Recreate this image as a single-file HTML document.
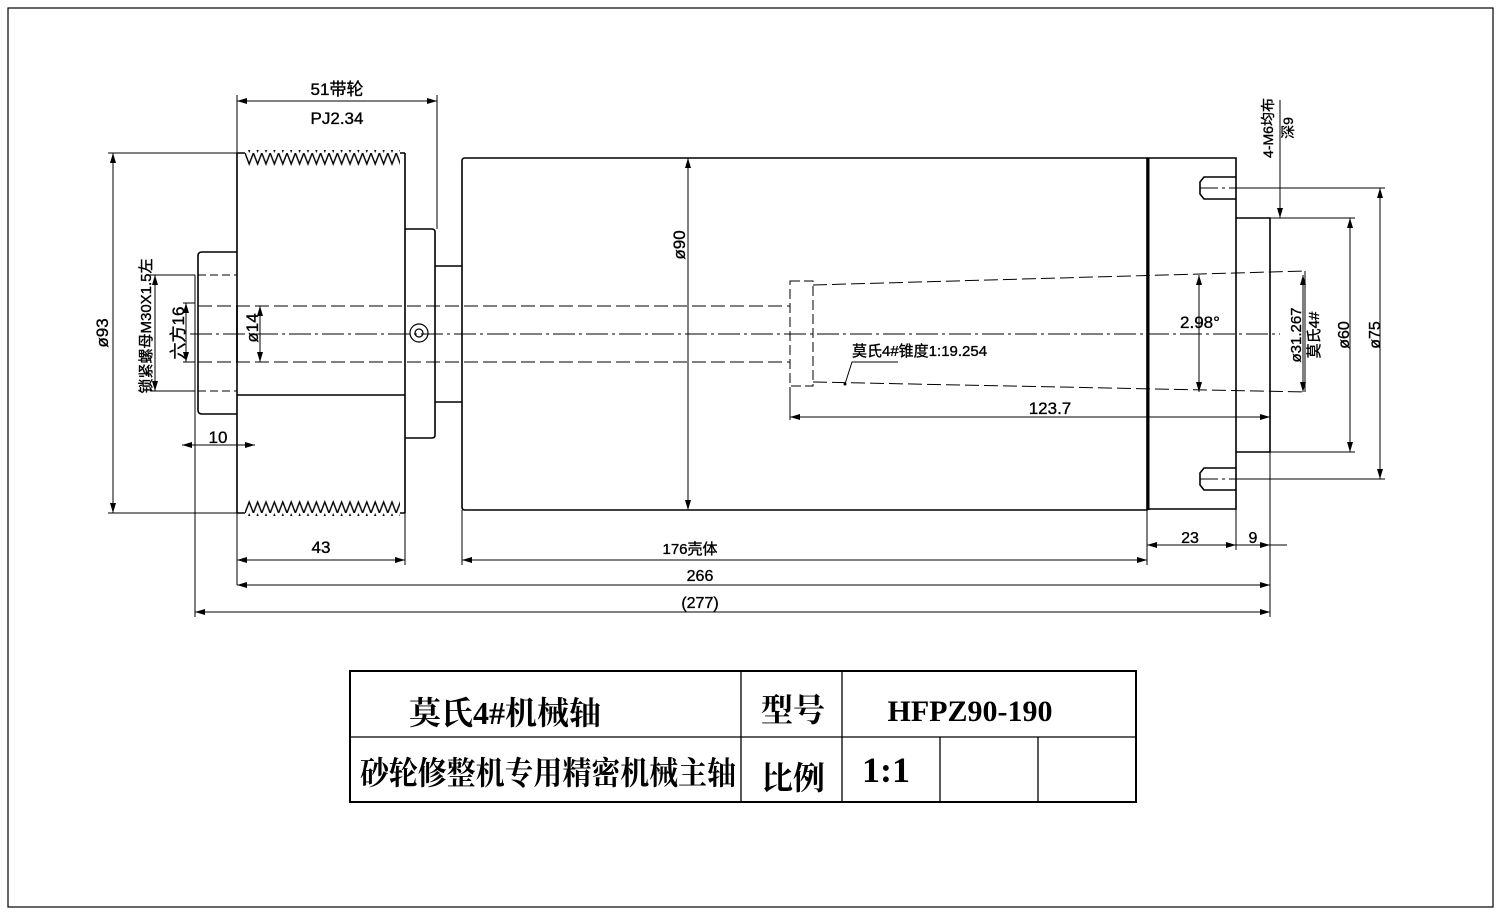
<!DOCTYPE html>
<html><head><meta charset="utf-8"><style>
html,body{margin:0;padding:0;background:#fff;}
svg{display:block}
text{font-family:"Liberation Sans Narrow","Liberation Sans","Noto Sans CJK SC",sans-serif;fill:#000}
.d text{stroke:#000;stroke-width:0.35}
.t text{font-family:"Liberation Serif","Noto Serif CJK SC","Noto Sans CJK SC",serif;font-weight:bold}
</style></head><body>
<svg width="1500" height="917" viewBox="0 0 1500 917" xmlns="http://www.w3.org/2000/svg">
<defs>
<pattern id="zt" x="245" y="153" width="8.4" height="13" patternUnits="userSpaceOnUse">
<path d="M0,0 L4.2,11 L8.4,0" fill="none" stroke="#000" stroke-width="1.4"/></pattern>
<pattern id="zb" x="245" y="500" width="8.4" height="13" patternUnits="userSpaceOnUse">
<path d="M0,13 L4.2,2 L8.4,13" fill="none" stroke="#000" stroke-width="1.4"/></pattern>
<marker id="a" viewBox="0 0 10 6" refX="10" refY="3" markerWidth="10" markerHeight="6" orient="auto-start-reverse" markerUnits="userSpaceOnUse"><path d="M0,0 L10,3 L0,6z" fill="#000"/></marker>
</defs>
<rect x="8" y="8" width="1485" height="899" fill="none" stroke="#000" stroke-width="1.2"/>
<g fill="none" stroke="#000" stroke-width="1.6">
<path d="M237,153 L237,513 M405,153 L405,513 M237,153 L245,153 M400,153 L405,153 M237,513 L245,513 M400,513 L405,513"/>
<rect x="245" y="150" width="155" height="16" fill="url(#zt)" stroke="none"/>
<rect x="245" y="500" width="155" height="16" fill="url(#zb)" stroke="none"/>
<path d="M237,252 L202,252 Q198,252 198,256 L198,410 Q198,414 202,414 L237,414"/>
<path d="M195,275 L195,392" stroke-width="1"/>
<path d="M237,395 L405,395 M237,306 L237,362"/>
<path d="M405,229 L432,229 Q435,229 435,232 L435,435 Q435,438 432,438 L405,438"/>
<path d="M435,266 L462,266 M435,402 L462,402"/>
<circle cx="419" cy="333" r="9" stroke-width="1.2"/><circle cx="419" cy="333" r="4" stroke-width="1.2"/>
<path d="M462,161 Q462,158 465,158 L1147,158 L1147,510 L465,510 Q462,510 462,507 Z"/>
<path d="M1148,158 L1148,510" stroke-width="3"/>
<path d="M1147,158 L1236,158 L1236,509 L1147,509"/>
<path d="M1236,218 L1270,218 L1270,452 L1236,452"/>
<path d="M1236,177 L1204,177 L1200,182 L1200,194 L1204,199 L1236,199"/>
<path d="M1236,468 L1204,468 L1200,473 L1200,485 L1204,490 L1236,490"/>
</g>
<g fill="none" stroke="#000" stroke-width="1">
<path d="M198,275 L237,275 M198,391 L237,391" stroke-dasharray="8,4"/>
<path d="M198,306 L790,306 M198,362 L790,362" stroke-dasharray="14,5"/>
<path d="M190,334 L1280,334" stroke-dasharray="22,4,3,4"/>
<path d="M790,281 L813,281 L813,386 L790,386 Z" stroke-dasharray="10,4"/>
<path d="M813,285 L1305,271 M813,382 L1305,392" stroke-dasharray="14,5"/>
<path d="M1200,188 L1280,188 M1200,479 L1280,479" stroke-dasharray="18,4,3,4"/>
</g>
<g fill="none" stroke="#000" stroke-width="1">
<path d="M237,95 L237,153 M437,95 L437,229"/>
<path d="M237,101 L437,101" marker-start="url(#a)" marker-end="url(#a)"/>
<path d="M108,153 L237,153 M108,513 L237,513"/>
<path d="M113,153 L113,513" marker-start="url(#a)" marker-end="url(#a)"/>
<path d="M150,275 L195,275 M150,391 L195,391"/>
<path d="M155,275 L155,391" marker-start="url(#a)" marker-end="url(#a)"/>
<path d="M183,303 L195,303 M183,362 L195,362"/>
<path d="M186,303 L186,362" marker-start="url(#a)" marker-end="url(#a)"/>
<path d="M260,306 L260,362" marker-start="url(#a)" marker-end="url(#a)"/>
<path d="M195,392 L195,617 M237,513 L237,585"/>
<path d="M182,445 L195,445" marker-start="url(#a)"/><path d="M237,445 L255,445" marker-end="url(#a)"/><path d="M195,445 L237,445"/>
<path d="M405,513 L405,565 M462,510 L462,565 M1147,510 L1147,565 M1236,509 L1236,550 M1270,452 L1270,617"/>
<path d="M237,560 L405,560" marker-start="url(#a)" marker-end="url(#a)"/>
<path d="M462,560 L1147,560" marker-start="url(#a)" marker-end="url(#a)"/>
<path d="M237,585 L1270,585" marker-start="url(#a)" marker-end="url(#a)"/>
<path d="M195,612 L1270,612" marker-start="url(#a)" marker-end="url(#a)"/>
<path d="M1147,545 L1236,545" marker-start="url(#a)" marker-end="url(#a)"/>
<path d="M1236,545 L1287,545"/><path d="M1255,545 L1270,545" marker-end="url(#a)"/>
<path d="M688,158 L688,510" marker-start="url(#a)" marker-end="url(#a)"/>
<path d="M790,387 L790,420"/>
<path d="M790,417 L1270,417" marker-start="url(#a)" marker-end="url(#a)"/>
<path d="M1199,275 L1199,392" marker-start="url(#a)" marker-end="url(#a)"/>
<path d="M1270,218 L1355,218 M1270,452 L1355,452"/>
<path d="M1350,218 L1350,452" marker-start="url(#a)" marker-end="url(#a)"/>
<path d="M1236,188 L1385,188 M1236,479 L1385,479"/>
<path d="M1380,188 L1380,479" marker-start="url(#a)" marker-end="url(#a)"/>
<path d="M1305,271 L1305,392"/>
<path d="M1303,275 L1303,392" marker-start="url(#a)" marker-end="url(#a)"/>
<path d="M1280,100 L1280,218" marker-end="url(#a)"/>
<path d="M845,384 L852,362 L898,362"/>
</g>
<circle cx="845" cy="384" r="1.5"/>
<g font-size="17" class="d">
<text x="337" y="95" text-anchor="middle">51带轮</text>
<text x="337" y="124" text-anchor="middle">PJ2.34</text>
<text transform="translate(108,333) rotate(-90)" text-anchor="middle">ø93</text>
<text transform="translate(151,326) rotate(-90)" text-anchor="middle" font-size="15">锁紧螺母M30X1.5左</text>
<text transform="translate(184,333) rotate(-90)" text-anchor="middle">六方16</text>
<text transform="translate(258,328) rotate(-90)" text-anchor="middle">ø14</text>
<text x="218" y="443" text-anchor="middle">10</text>
<text x="321" y="553" text-anchor="middle">43</text>
<text x="690" y="554" text-anchor="middle" font-size="15">176壳体</text>
<text x="700" y="581" text-anchor="middle" font-size="16">266</text>
<text x="700" y="608" text-anchor="middle" font-size="16">(277)</text>
<text x="1190" y="543" text-anchor="middle" font-size="16">23</text>
<text x="1253" y="543" text-anchor="middle" font-size="16">9</text>
<text transform="translate(685,245) rotate(-90)" text-anchor="middle">ø90</text>
<text x="1050" y="414" text-anchor="middle">123.7</text>
<text x="1200" y="328" text-anchor="middle">2.98°</text>
<text x="852" y="356" font-size="15">莫氏4#锥度1:19.254</text>
<text transform="translate(1301,335) rotate(-90)" text-anchor="middle" font-size="15">ø31.267</text>
<text transform="translate(1319,335) rotate(-90)" text-anchor="middle" font-size="15">莫氏4#</text>
<text transform="translate(1349,335) rotate(-90)" text-anchor="middle" font-size="16">ø60</text>
<text transform="translate(1380,335) rotate(-90)" text-anchor="middle" font-size="16">ø75</text>
<text transform="translate(1273,128) rotate(-90)" text-anchor="middle" font-size="14">4-M6均布</text>
<text transform="translate(1293,128) rotate(-90)" text-anchor="middle" font-size="14">深9</text>
</g>
<g fill="none" stroke="#000" stroke-width="1.3">
<rect x="350" y="671" width="786" height="131" stroke-width="2"/>
<path d="M350,737 L1136,737 M741,671 L741,802 M842,671 L842,802 M940,737 L940,802 M1038,737 L1038,802"/>
</g>
<g font-size="32" class="t">
<text x="505" y="724" text-anchor="middle">莫氏4#机械轴</text>
<text x="793" y="721" text-anchor="middle">型号</text>
<text x="970" y="721" text-anchor="middle" font-size="30">HFPZ90-190</text>
<text x="548" y="784" text-anchor="middle" textLength="376" lengthAdjust="spacingAndGlyphs">砂轮修整机专用精密机械主轴</text>
<text x="793" y="789" text-anchor="middle">比例</text>
<text x="886" y="782" text-anchor="middle" font-size="36">1:1</text>
</g>
</svg>
</body></html>
